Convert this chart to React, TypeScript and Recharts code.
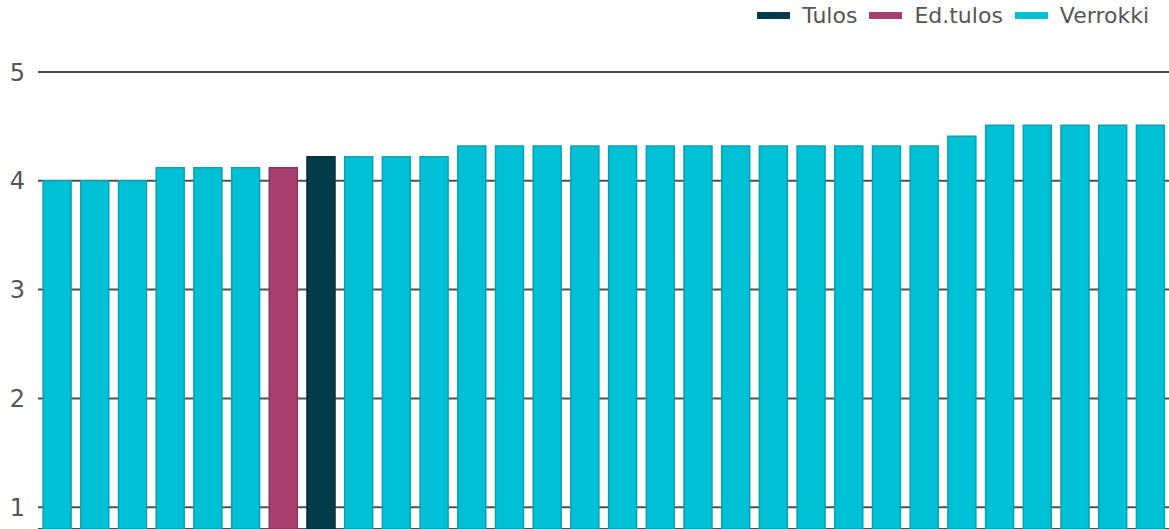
import { BarChart, Bar, Cell, XAxis, YAxis, CartesianGrid, Legend } from "recharts";

const categories = Array.from({ length: 30 }, (_, i) => `k${i + 1}`);
const values = [
  4.0, 4.0, 4.0, 4.12, 4.12, 4.12, 4.12, 4.22, 4.22, 4.22, 4.22,
  4.32, 4.32, 4.32, 4.32, 4.32, 4.32, 4.32, 4.32, 4.32, 4.32, 4.32, 4.32, 4.32,
  4.41, 4.51, 4.51, 4.51, 4.51, 4.51,
];
// which series each bar belongs to
const kinds = [
  "Verrokki", "Verrokki", "Verrokki", "Verrokki", "Verrokki", "Verrokki",
  "Ed.tulos", "Tulos",
  ...Array(22).fill("Verrokki"),
];
const yTicks = [1, 2, 3, 4, 5];
const legendNames = ["Tulos", "Ed.tulos", "Verrokki"];

const COLORS: Record<string, { fill: string; stroke: string }> = {
  Tulos: { fill: "#033b4b", stroke: "#022f3c" },
  "Ed.tulos": { fill: "#a83f71", stroke: "#8e335f" },
  Verrokki: { fill: "#00c0d5", stroke: "#0aa1b0" },
};

const data = categories.map((name, i) => ({ name, value: values[i], kind: kinds[i] }));

const FONT = "'DejaVu Sans', Verdana, sans-serif";

function ChartLegend() {
  return (
    <div style={{ display: "flex", alignItems: "center", gap: 12, fontFamily: FONT, fontSize: 22, color: "#555" }}>
      {legendNames.map((n) => (
        <div key={n} style={{ display: "flex", alignItems: "center", gap: 12 }}>
          <span style={{ display: "inline-block", width: 33, height: 7, background: COLORS[n].fill }} />
          <span>{n}</span>
        </div>
      ))}
    </div>
  );
}

export default function App() {
  return (
    <div style={{ position: "absolute", left: 0, top: 0 }}>
      <BarChart
        width={1169}
        height={529}
        data={data}
        margin={{ top: 72, right: 0, bottom: 0, left: 0 }}
        barCategoryGap="13.5%"
      >
        <CartesianGrid vertical={false} stroke="#4f4f4f" strokeWidth={2} />
        <XAxis dataKey="name" hide />
        <YAxis
          domain={[0.8, 5]}
          ticks={yTicks}
          allowDataOverflow
          width={38}
          axisLine={false}
          tickLine={false}
          tickSize={0}
          tickMargin={13}
          tick={{ fill: "#555", fontSize: 24, fontFamily: FONT }}
        />
        <Legend
          layout="horizontal"
          verticalAlign="middle"
          align="center"
          wrapperStyle={{ top: 3, right: 20, left: "auto", bottom: "auto", width: "auto", height: "auto" }}
          content={<ChartLegend />}
        />
        <Bar dataKey="value" isAnimationActive={false} strokeWidth={1.5}>
          {data.map((d, i) => (
            <Cell key={`c-${i}`} fill={COLORS[d.kind].fill} stroke={COLORS[d.kind].stroke} />
          ))}
        </Bar>
      </BarChart>
    </div>
  );
}
